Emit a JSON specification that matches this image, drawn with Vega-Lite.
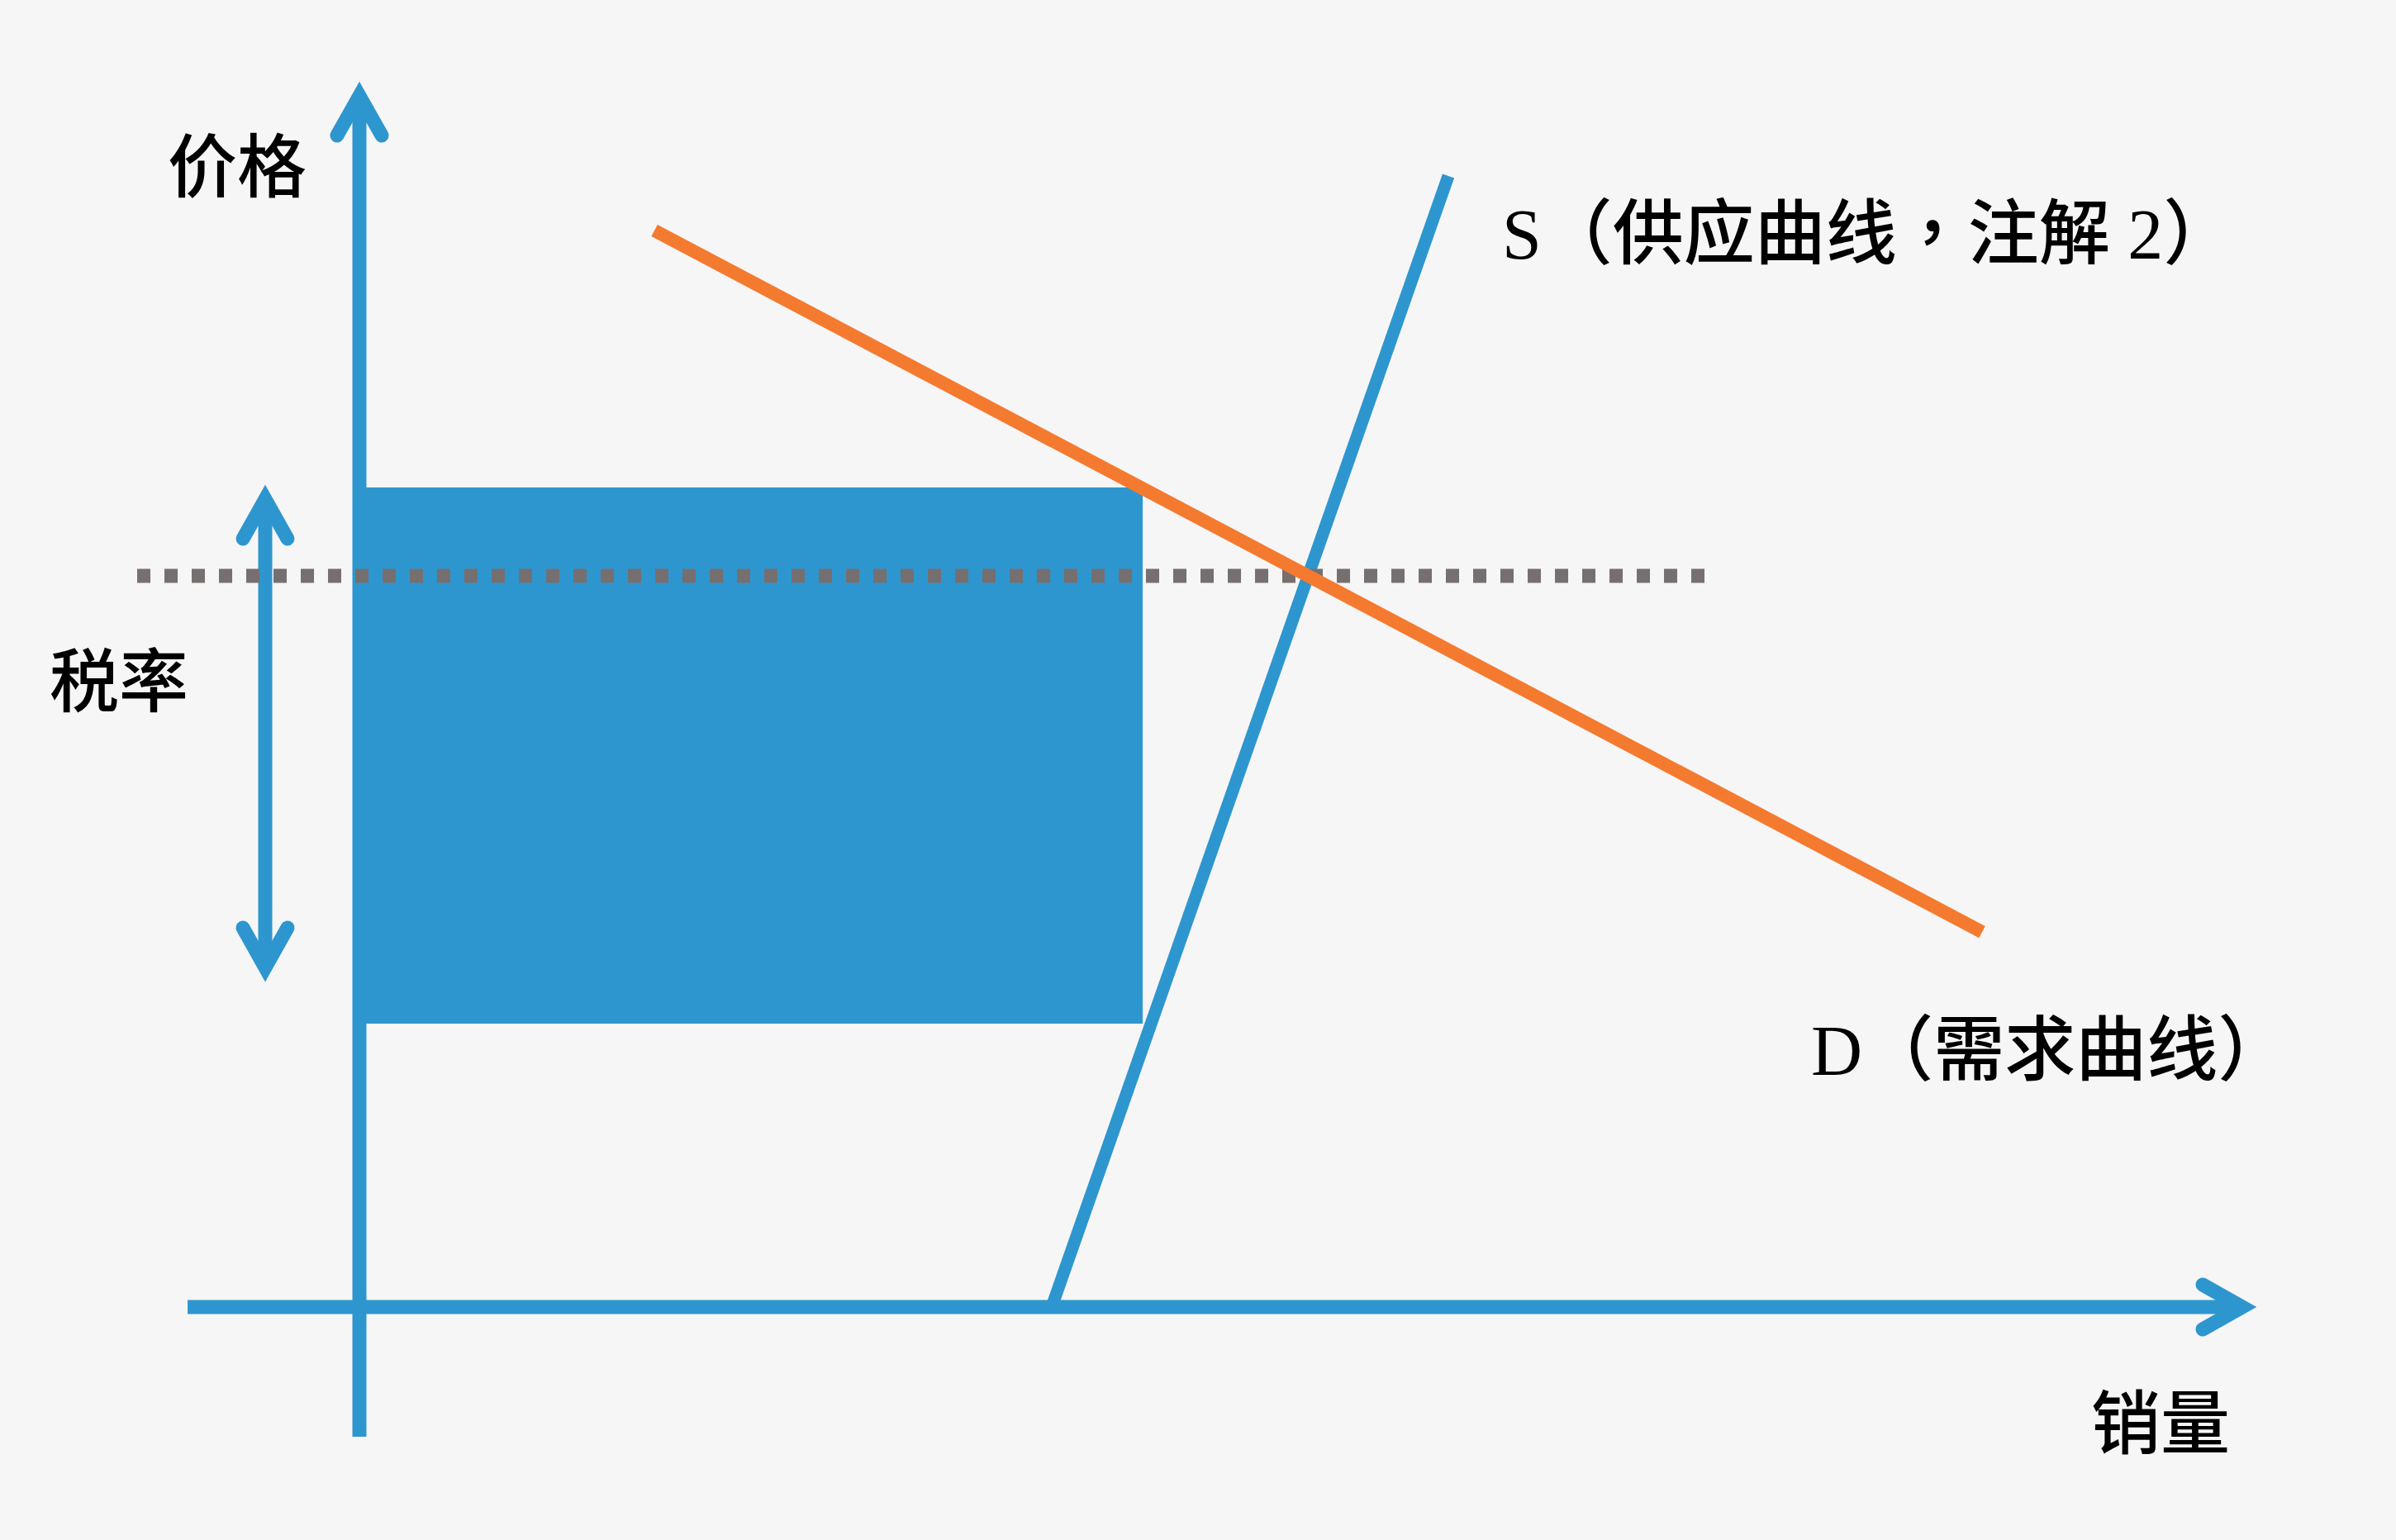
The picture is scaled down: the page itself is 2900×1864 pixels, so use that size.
{
  "$schema": "https://vega.github.io/schema/vega-lite/v6.json",
  "width": 2900,
  "height": 1864,
  "autosize": {"type": "fit", "contains": "padding"},
  "padding": 0,
  "background": "#f6f6f6",
  "config": {"view": {"stroke": null}},
  "datasets": {
    "rects": [{"name": "tax_revenue", "q": 0, "p": 66.94, "q2": 41.31, "p2": 23.14}],
    "segments": [
      {"part": "axis", "q": 0, "p": 98.92, "q2": 0, "p2": -10.59},
      {"part": "axis", "q": -9.06, "p": 0, "q2": 99.3, "p2": 0},
      {"part": "axis", "q": -4.967, "p": 65.99, "q2": -4.967, "p2": 27.73},
      {"part": "price", "q": -11.72, "p": 59.72, "q2": 71.07, "p2": 59.72},
      {"part": "supply", "q": 36.51, "p": 0, "q2": 57.43, "p2": 92.38},
      {"part": "demand", "q": 15.56, "p": 87.92, "q2": 85.58, "p2": 30.63}
    ],
    "chevrons": [
      {"arrow": "y", "i": 0, "q": -1.18, "p": 95.68},
      {"arrow": "y", "i": 1, "q": 0, "p": 98.92},
      {"arrow": "y", "i": 2, "q": 1.18, "p": 95.68},
      {"arrow": "x", "i": 0, "q": 97.21, "p": 1.82},
      {"arrow": "x", "i": 1, "q": 99.3, "p": 0},
      {"arrow": "x", "i": 2, "q": 97.21, "p": -1.82},
      {"arrow": "tax_top", "i": 0, "q": -6.143, "p": 62.75},
      {"arrow": "tax_top", "i": 1, "q": -4.967, "p": 65.99},
      {"arrow": "tax_top", "i": 2, "q": -3.791, "p": 62.75},
      {"arrow": "tax_bottom", "i": 0, "q": -6.143, "p": 30.97},
      {"arrow": "tax_bottom", "i": 1, "q": -4.967, "p": 27.73},
      {"arrow": "tax_bottom", "i": 2, "q": -3.791, "p": 30.97}
    ],
    "labels_cjk": [
      {"text": "价格", "q": -6.45, "p": 92.78},
      {"text": "税率", "q": -12.68, "p": 50.74},
      {"text": "销量", "q": 94.99, "p": -9.85}
    ],
    "labels_curve": [
      {"text": "S（供应曲线，注解 2）", "q": 60.26, "p": 87.38},
      {"text": "D（需求曲线）", "q": 76.56, "p": 20.72}
    ]
  },
  "resolve": {"scale": {"x": "shared", "y": "shared"}},
  "layer": [
    {
      "data": {"name": "rects"},
      "mark": {"type": "rect", "color": "#2e96cf"},
      "encoding": {
        "x": {"field": "q", "type": "quantitative", "scale": {"domain": [-18.954, 107.407], "nice": false, "zero": false}, "axis": null},
        "x2": {"field": "q2"},
        "y": {"field": "p", "type": "quantitative", "scale": {"domain": [-19.028, 106.748], "nice": false, "zero": false}, "axis": null},
        "y2": {"field": "p2"}
      }
    },
    {
      "data": {"name": "segments"},
      "transform": [{"filter": "datum.part == 'axis'"}],
      "mark": {"type": "rule", "color": "#2e96cf", "strokeWidth": 17, "strokeCap": "butt"},
      "encoding": {
        "x": {"field": "q", "type": "quantitative"},
        "x2": {"field": "q2"},
        "y": {"field": "p", "type": "quantitative"},
        "y2": {"field": "p2"}
      }
    },
    {
      "data": {"name": "segments"},
      "transform": [{"filter": "datum.part == 'supply'"}],
      "mark": {"type": "rule", "color": "#2e96cf", "strokeWidth": 15, "strokeCap": "butt"},
      "encoding": {
        "x": {"field": "q", "type": "quantitative"},
        "x2": {"field": "q2"},
        "y": {"field": "p", "type": "quantitative"},
        "y2": {"field": "p2"}
      }
    },
    {
      "data": {"name": "segments"},
      "transform": [{"filter": "datum.part == 'price'"}],
      "mark": {"type": "rule", "color": "#766f70", "strokeWidth": 17, "strokeCap": "butt", "strokeDash": [16, 17]},
      "encoding": {
        "x": {"field": "q", "type": "quantitative"},
        "x2": {"field": "q2"},
        "y": {"field": "p", "type": "quantitative"},
        "y2": {"field": "p2"}
      }
    },
    {
      "data": {"name": "segments"},
      "transform": [{"filter": "datum.part == 'demand'"}],
      "mark": {"type": "rule", "color": "#f47a30", "strokeWidth": 16, "strokeCap": "butt"},
      "encoding": {
        "x": {"field": "q", "type": "quantitative"},
        "x2": {"field": "q2"},
        "y": {"field": "p", "type": "quantitative"},
        "y2": {"field": "p2"}
      }
    },
    {
      "data": {"name": "chevrons"},
      "mark": {"type": "line", "color": "#2e96cf", "strokeWidth": 17, "strokeCap": "round", "strokeJoin": "miter"},
      "encoding": {
        "x": {"field": "q", "type": "quantitative"},
        "y": {"field": "p", "type": "quantitative"},
        "detail": {"field": "arrow"},
        "order": {"field": "i", "type": "quantitative"}
      }
    },
    {
      "data": {"name": "labels_cjk"},
      "mark": {"type": "text", "font": "Noto Sans CJK SC", "fontSize": 84, "fontWeight": 500, "color": "#000000", "align": "center", "baseline": "middle"},
      "encoding": {
        "x": {"field": "q", "type": "quantitative"},
        "y": {"field": "p", "type": "quantitative"},
        "text": {"field": "text"}
      }
    },
    {
      "data": {"name": "labels_curve"},
      "mark": {"type": "text", "font": "Liberation Serif, Noto Sans CJK TC", "fontSize": 86, "fontWeight": 500, "color": "#000000", "align": "left", "baseline": "middle"},
      "encoding": {
        "x": {"field": "q", "type": "quantitative"},
        "y": {"field": "p", "type": "quantitative"},
        "text": {"field": "text"}
      }
    }
  ]
}
